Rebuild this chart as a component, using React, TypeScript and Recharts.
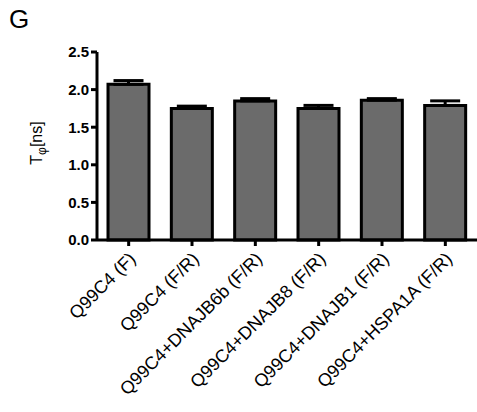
import React from 'react';
import { BarChart, Bar, XAxis, YAxis, ErrorBar } from 'recharts';

const categories = [
  'Q99C4 (F)',
  'Q99C4 (F/R)',
  'Q99C4+DNAJB6b (F/R)',
  'Q99C4+DNAJB8 (F/R)',
  'Q99C4+DNAJB1 (F/R)',
  'Q99C4+HSPA1A (F/R)',
];
const tauValues = [2.07, 1.75, 1.85, 1.75, 1.86, 1.79];
const tauErrors = [0.05, 0.03, 0.03, 0.04, 0.02, 0.06];
const yTicks = [0, 0.5, 1.0, 1.5, 2.0, 2.5];

const data = categories.map((name, i) => ({
  name,
  tau: tauValues[i],
  err: [0, tauErrors[i]],
}));

const font = 'Arial, "Liberation Sans", Helvetica, sans-serif';

const XTick = (props: any) => {
  const { x, y, payload } = props;
  return (
    <g transform={`translate(${x + 8},${y + 14}) rotate(-45)`}>
      <text x={0} y={0} textAnchor="end" fill="#000" fontSize={18} fontFamily={font}>
        {payload.value}
      </text>
    </g>
  );
};

export default function App() {
  return (
    <div style={{ position: 'absolute', left: 0, top: 0, width: 477, height: 412, background: '#fff' }}>
      <div style={{ position: 'absolute', left: 9, top: 4, fontSize: 26, fontFamily: font, color: '#000' }}>G</div>
      <svg style={{ position: 'absolute', left: 0, top: 0 }} width={60} height={412}>
        <text transform="translate(42,143) rotate(-90)" textAnchor="middle" fill="#000" fontSize={16} fontFamily={font}>
          T<tspan fontSize={12} dy={4}>φ</tspan>
          <tspan dy={-4}>[ns]</tspan>
        </text>
      </svg>
      <BarChart width={477} height={412} data={data} margin={{ top: 52, right: 0, left: 0, bottom: 0 }} barCategoryGap={0}>
        <XAxis
          dataKey="name"
          interval={0}
          height={172}
          tickSize={6}
          tickMargin={0}
          axisLine={{ stroke: '#000', strokeWidth: 3 }}
          tickLine={{ stroke: '#000', strokeWidth: 3 }}
          tick={<XTick />}
        />
        <YAxis
          width={97}
          domain={[0, 2.5]}
          ticks={yTicks}
          interval={0}
          tickSize={6}
          tickMargin={2}
          tickFormatter={(v: number) => v.toFixed(1)}
          axisLine={{ stroke: '#000', strokeWidth: 3 }}
          tickLine={{ stroke: '#000', strokeWidth: 3 }}
          tick={{ fill: '#000', fontSize: 15, fontWeight: 'bold', fontFamily: font }}
        />
        <Bar dataKey="tau" barSize={41} fill="#6b6b6b" stroke="#000" strokeWidth={3} isAnimationActive={false}>
          <ErrorBar dataKey="err" width={15} stroke="#000" strokeWidth={3} direction="y" />
        </Bar>
      </BarChart>
    </div>
  );
}
